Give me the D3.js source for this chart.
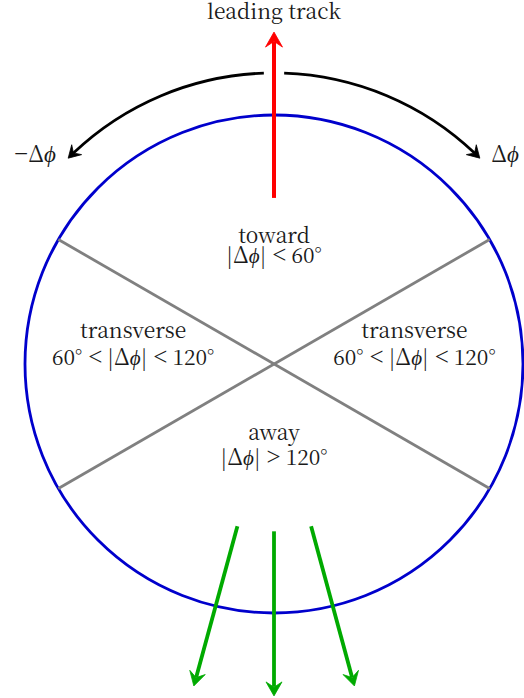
<!DOCTYPE html>
<html>
<head>
<meta charset="utf-8">
<script src="https://cdn.jsdelivr.net/npm/d3@7"></script>
</head>
<body style="margin:0;background:#fff">
<svg id="chart" width="524" height="698" style="display:block"></svg>
<script>
// ---- data (diagram units: circle radius = 1, centre = origin) ----
const dividerAnglesDeg = [30, 150];                 // lines separating regions
const regionNames = ["toward", "transverse", "transverse", "away"];
const regionRanges = ["|Δϕ| < 60°", "60° < |Δϕ| < 120°", "60° < |Δϕ| < 120°", "|Δϕ| > 120°"];
const leadingTrack = { from: [0, 0.667], to: [0, 1.333] };
const awayTracks = [
  { from: [-0.147, -0.652], to: [-0.322, -1.293] },
  { from: [0, -0.672], to: [0, -1.333] },
  { from: [0.149, -0.652], to: [0.323, -1.293] }
];
const phiArcs = [ { r: 1.169, a0: 92, a1: 135 }, { r: 1.169, a0: 88, a1: 45 } ];
const phiLabels = ["−Δϕ", "Δϕ"];
const titleLabel = "leading track";

// ---- layout ----
const FONT = '"Noto Serif CJK SC", "Liberation Serif", serif';
const RELFONT = '"Liberation Serif", serif';
const svg = d3.select("#chart");
const cx = 274, cy = 364, R = 249;
const sx = d3.scaleLinear().domain([-1, 1]).range([cx - R, cx + R]);
const sy = d3.scaleLinear().domain([-1, 1]).range([cy + R, cy - R]);
const rad = d => d * Math.PI / 180;

svg.append("circle").attr("cx", sx(0)).attr("cy", sy(0)).attr("r", sx(1) - sx(0))
  .attr("fill", "none").attr("stroke", "#0000cc").attr("stroke-width", 2.8);

svg.selectAll("line.div").data(dividerAnglesDeg).join("line").attr("class", "div")
  .attr("x1", d => sx(Math.cos(rad(d)))).attr("y1", d => sy(Math.sin(rad(d))))
  .attr("x2", d => sx(-Math.cos(rad(d)))).attr("y2", d => sy(-Math.sin(rad(d))))
  .attr("stroke", "#808080").attr("stroke-width", 2.8);

function arrowHead(g, x, y, ang, L, W, color) {
  const p = [[0, 0], [-L, W / 2], [-L * 0.62, 0], [-L, -W / 2]];
  const c = Math.cos(ang), s = Math.sin(ang);
  const pts = p.map(([u, v]) => [x + u * c - v * s, y + u * s + v * c]);
  g.append("path").attr("d", "M" + pts.map(q => q.join(",")).join("L") + "Z")
    .attr("fill", color).attr("stroke", color).attr("stroke-width", 0.8).attr("stroke-linejoin", "miter");
}
function arrowLine(g, from, to, color, w, L, W) {
  const x1 = sx(from[0]), y1 = sy(from[1]), x2 = sx(to[0]), y2 = sy(to[1]);
  const ang = Math.atan2(y2 - y1, x2 - x1);
  const back = L * 0.65;
  g.append("line").attr("x1", x1).attr("y1", y1)
    .attr("x2", x2 - back * Math.cos(ang)).attr("y2", y2 - back * Math.sin(ang))
    .attr("stroke", color).attr("stroke-width", w);
  arrowHead(g, x2, y2, ang, L, W, color);
}

const g = svg.append("g");
arrowLine(g, leadingTrack.from, leadingTrack.to, "#ff0000", 4, 15, 17);
awayTracks.forEach(t => arrowLine(g, t.from, t.to, "#00aa00", 3.8, 14, 16));

phiArcs.forEach(a => {
  const r = sx(a.r) - sx(0);
  const s0 = -rad(a.a0), s1 = -rad(a.a1);
  const ccw = a.a1 > a.a0;
  const dir = ccw ? -1 : 1;
  const trim = 7 / r;
  const p = d3.path();
  p.moveTo(sx(0) + r * Math.cos(s0), sy(0) + r * Math.sin(s0));
  p.arc(sx(0), sy(0), r, s0, s1 - dir * trim, ccw);
  g.append("path").attr("d", p.toString()).attr("fill", "none")
    .attr("stroke", "#000").attr("stroke-width", 2.8);
  const tx = sx(0) + r * Math.cos(s1), ty = sy(0) + r * Math.sin(s1);
  const tang = s1 + dir * Math.PI / 2;
  arrowHead(g, tx, ty, tang, 12, 14, "#000");
});

// ---- text ----
function addRuns(sel, str, firstDx) {
  let dx = firstDx;
  for (const ch of str.split(/(ϕ|Δ|−)/)) {
    if (!ch) continue;
    const ts = sel.append("tspan").text(ch);
    if (ch === "ϕ") ts.style("font-style", "italic");
    if (ch === "Δ") ts.style("font-size", "23px");
    if (ch === "−") ts.style("font-family", RELFONT).style("font-size", "25px").attr("dx", 0);
    if (dx) { ts.attr("dx", dx); dx = 0; }
  }
}
function mathText(sel, str) {
  const parts = str.split(/\s*(<|>)\s*/);
  let pending = 0;
  parts.forEach(part => {
    if (part === "<" || part === ">") {
      sel.append("tspan").attr("dx", 6).style("font-family", RELFONT).style("font-size", "25px").text(part);
      pending = 5;
    } else if (part) {
      addRuns(sel, part, pending);
      pending = 0;
    }
  });
}
const fs = 21;
const labelAnchors = [[0, 0.486, 0.406], [-0.566, 0.104, -0.004], [0.564, 0.104, -0.004], [0, -0.305, -0.406]];
function txt(x, y, size) {
  return svg.append("text").attr("x", x).attr("y", y).attr("text-anchor", "middle")
    .style("font-family", FONT).style("font-size", (size || fs) + "px").attr("fill", "#1a1a1a");
}
regionNames.forEach((name, i) => {
  const [ux, y1, y2] = labelAnchors[i];
  txt(sx(ux), sy(y1)).text(name);
  mathText(txt(sx(ux), sy(y2)), regionRanges[i]);
});

txt(sx(0), sy(1.394) + 2).text(titleLabel);

[[-0.96, 0.811], [0.928, 0.811]].forEach((pos, i) => {
  addRuns(txt(sx(pos[0]), sy(pos[1]), 23), phiLabels[i], 0);
});
</script>
</body>
</html>
